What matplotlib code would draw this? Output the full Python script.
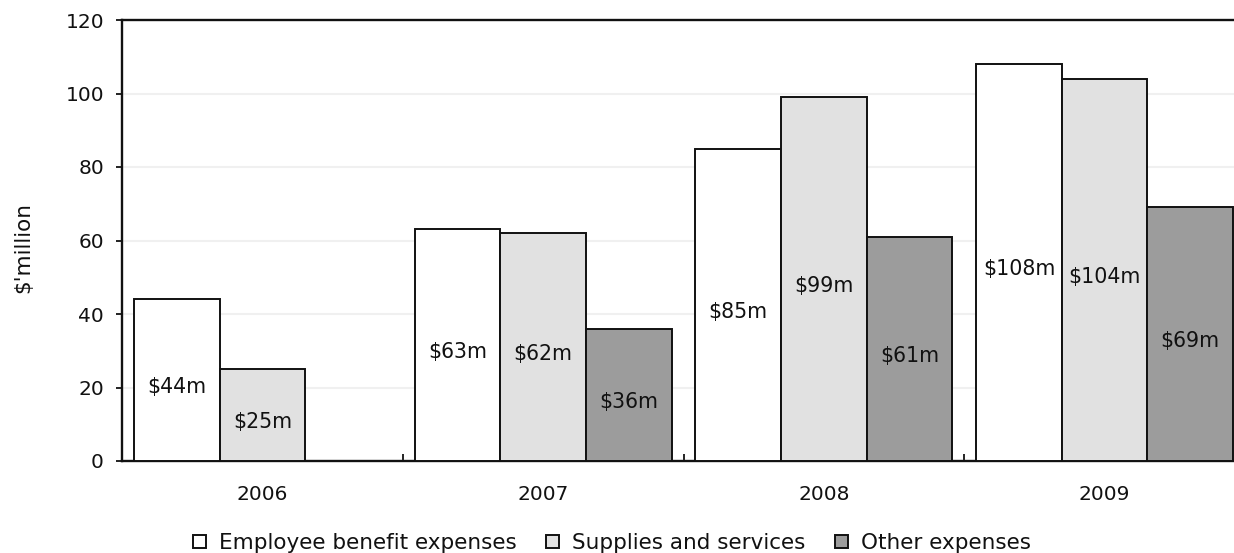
import matplotlib
matplotlib.use("Agg")
import matplotlib.pyplot as plt
import numpy as np

years = ["2006", "2007", "2008", "2009"]
series_names = ["Employee benefit expenses", "Supplies and services", "Other expenses"]
employee = [44, 63, 85, 108]
supplies = [25, 62, 99, 104]
other = [np.nan, 36, 61, 69]
colors = ["#ffffff", "#e1e1e1", "#9c9c9c"]

plt.rcParams['font.family'] = ['DejaVu Sans']

fig = plt.figure(figsize=(12.34, 5.53), dpi=100)
ax = fig.add_axes([122/1234, 92/553, (1245-122)/1234, 441/553])

x = np.arange(len(years))
w = 0.305
handles = []
for i, (vals, c, name) in enumerate(zip([employee, supplies, other], colors, series_names)):
    pos = x + (i - 1) * w
    vals_arr = np.array(vals, dtype=float)
    ok = ~np.isnan(vals_arr)
    bars = ax.bar(pos[ok], vals_arr[ok], width=w, color=c, edgecolor="#111111",
                  linewidth=1.4, label=name, zorder=3)
    handles.append(bars)
    for p, v in zip(pos[ok], vals_arr[ok]):
        ax.annotate(f"${int(v)}m", (p, v / 2), xytext=(0, -5), textcoords="offset points",
                    ha="center", va="center", fontsize=14.8, color="#111111", zorder=4)

ax.set_xlim(-0.5, len(years) - 0.5)
ax.set_ylim(0, 120)
ax.set_yticks(np.arange(0, 121, 20))
ax.tick_params(axis='y', direction='out', length=4, width=1.3, labelsize=14.5, pad=9, colors="#111111")
ax.set_xticks(x)
ax.set_xticklabels(years)
ax.set_xticks(np.arange(0.5, len(years) - 0.5, 1), minor=True)
ax.tick_params(axis='x', which='major', length=0, labelsize=14.5, pad=17, colors="#111111")
ax.tick_params(axis='x', which='minor', direction='in', length=5, width=1.2)
ax.grid(axis='y', color="#f0f0f0", linewidth=1.5, zorder=0)
ax.set_axisbelow(True)
for s in ["left", "bottom", "top", "right"]:
    ax.spines[s].set_linewidth(1.7)
    ax.spines[s].set_color("#111111")
ax.set_ylabel("$'million", fontsize=15.5, color="#111111")
ax.yaxis.set_label_coords(-0.079, 0.484)

leg = fig.legend(handles=handles, labels=series_names, loc="center", bbox_to_anchor=(612/1234, 1 - 543/553),
                 ncol=3, frameon=False, handlelength=0.58, handleheight=0.58,
                 handletextpad=0.6, columnspacing=1.4, borderpad=0,
                 prop={'family': ['DejaVu Sans'], 'size': 15.5})
for t in leg.get_texts():
    t.set_color("#111111")

fig.savefig("out.png", dpi=100)
